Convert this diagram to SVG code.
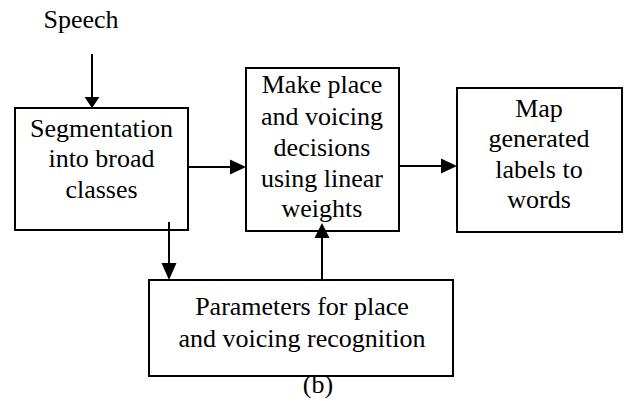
<svg xmlns="http://www.w3.org/2000/svg" width="625" height="401" viewBox="0 0 625 401">
<style>
.box{fill:#fff;stroke:#000;stroke-width:2}
.t{font-family:'Liberation Serif','Times New Roman',serif;font-size:26px;fill:#000;text-anchor:middle}
.c{stroke:#000;stroke-width:2;fill:none}
.ah{fill:#000}
</style>
<rect width="625" height="401" fill="#fff"/>
<text class="t" x="81" y="28">Speech</text>
<g id="seg">
<rect class="box" x="15" y="108" width="173" height="122"/>
<text class="t" x="101.5" y="137">Segmentation</text>
<text class="t" x="101.5" y="167">into broad</text>
<text class="t" x="101.5" y="198">classes</text>
</g>
<g id="decide">
<rect class="box" x="246" y="68" width="153" height="163"/>
<text class="t" x="322" y="93">Make place</text>
<text class="t" x="322" y="125">and voicing</text>
<text class="t" x="322" y="156">decisions</text>
<text class="t" x="322" y="187">using linear</text>
<text class="t" x="322" y="217">weights</text>
</g>
<g id="map">
<rect class="box" x="457" y="88" width="165" height="144"/>
<text class="t" x="539" y="117">Map</text>
<text class="t" x="539" y="147">generated</text>
<text class="t" x="539" y="178">labels to</text>
<text class="t" x="539" y="208">words</text>
</g>
<g id="params">
<rect class="box" x="149" y="280" width="304" height="96"/>
<text class="t" x="302" y="315">Parameters for place</text>
<text class="t" x="302" y="347">and voicing recognition</text>
</g>
<text class="t" x="318" y="393">(b)</text>
<g id="connectors">
<line class="c" x1="92" y1="54" x2="92" y2="97"/>
<polygon class="ah" points="84.5,97 99.5,97 92,108"/>
<line class="c" x1="188" y1="167" x2="231" y2="167"/>
<polygon class="ah" points="230,159.5 230,174.5 246,167"/>
<line class="c" x1="399" y1="166" x2="442" y2="166"/>
<polygon class="ah" points="441,158.5 441,173.5 457,166"/>
<line class="c" x1="169" y1="222" x2="169" y2="264"/>
<polygon class="ah" points="161.5,263 176.5,263 169,280"/>
<line class="c" x1="322" y1="280" x2="322" y2="237"/>
<polygon class="ah" points="314.5,238 329.5,238 322,223"/>
</g>
</svg>
